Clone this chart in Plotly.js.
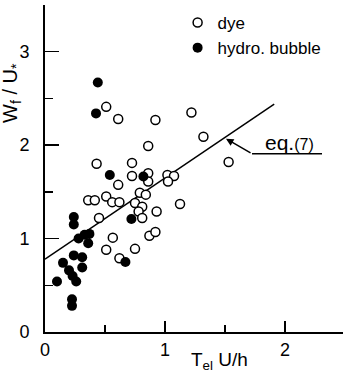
<!DOCTYPE html>
<html>
<head>
<meta charset="utf-8">
<script src="https://cdn.plot.ly/plotly-3.0.1.min.js"></script>
<style>html,body{margin:0;padding:0;background:#fff;}#chart{width:343px;height:374px;}</style>
</head>
<body>
<div id="chart"></div>
<script>
// dye (open circles)
const dyeX = [0.51,0.61,0.92,1.22,1.32,0.86,0.43,0.725,0.725,0.86,0.86,0.61,1.02,1.075,1.025,0.79,0.84,0.36,0.415,0.51,0.56,0.62,0.75,0.81,0.78,0.93,0.81,1.125,0.45,0.565,0.51,0.62,0.75,0.87,0.92,1.53];
const dyeY = [2.41,2.28,2.27,2.35,2.09,1.99,1.80,1.81,1.67,1.70,1.61,1.575,1.68,1.67,1.61,1.49,1.47,1.41,1.41,1.45,1.39,1.39,1.38,1.34,1.29,1.29,1.22,1.37,1.22,1.01,0.88,0.79,0.89,1.03,1.07,1.82];
// hydro. bubble (filled circles)
const bubX = [0.44,0.425,0.54,0.82,0.72,0.24,0.24,0.28,0.33,0.37,0.36,0.24,0.31,0.15,0.20,0.31,0.23,0.26,0.10,0.225,0.225,0.67];
const bubY = [2.67,2.34,1.68,1.665,1.21,1.23,1.15,1.00,1.04,1.05,0.95,0.82,0.80,0.74,0.66,0.69,0.60,0.54,0.54,0.35,0.28,0.75];
// eq.(7) line
const eqX = [0, 1.91];
const eqY = [0.78, 2.44];
const xTickVals = [0, 1, 2];
const xTickText = ['0', '1', '2'];
const yTickVals = [0, 1, 2, 3];
const yTickText = ['0', '1', '2', '3'];

const FONT = 'Liberation Sans, Arial, sans-serif';

const traces = [
  {x: eqX, y: eqY, mode: 'lines', line: {color: '#000', width: 1.5}, showlegend: false, hoverinfo: 'skip'},
  {x: dyeX, y: dyeY, mode: 'markers', name: 'dye',
   marker: {symbol: 'circle', size: 9, color: '#fff', line: {color: '#000', width: 1.5}}},
  {x: bubX, y: bubY, mode: 'markers', name: 'hydro. bubble',
   marker: {symbol: 'circle', size: 10, color: '#000', line: {color: '#000', width: 0}}}
];

const layout = {
  width: 343, height: 374,
  margin: {l: 45, r: 0, t: 5, b: 42},
  paper_bgcolor: '#fff', plot_bgcolor: '#fff',
  font: {family: FONT, color: '#000', size: 17},
  showlegend: true,
  legend: {x: 0.445, y: 1.0, xanchor: 'left', yanchor: 'top', bgcolor: 'rgba(0,0,0,0)',
           font: {family: FONT, size: 17, color: '#000'}, tracegroupgap: 0, itemwidth: 30},
  xaxis: {range: [0, 2.483], showgrid: false, zeroline: false, showline: true, linecolor: '#000', linewidth: 2,
          ticks: 'inside', ticklen: 11, tickwidth: 1.5, tickcolor: '#000',
          tickmode: 'array', tickvals: xTickVals, ticktext: xTickText,
          tickfont: {family: FONT, size: 18, color: '#000'},
          minor: {tickmode: 'array', tickvals: [0.5, 1.5], ticks: 'inside', ticklen: 7, tickwidth: 1.5, tickcolor: '#000', showgrid: false}},
  yaxis: {range: [0, 3.5], showgrid: false, zeroline: false, showline: true, linecolor: '#000', linewidth: 2,
          ticks: 'inside', ticklen: 14, tickwidth: 1.5, tickcolor: '#000',
          tickmode: 'array', tickvals: yTickVals, ticktext: yTickText, ticklabelstandoff: 10,
          tickfont: {family: FONT, size: 18, color: '#000'},
          minor: {tickmode: 'array', tickvals: [0.5, 1.5, 2.5, 3.5], ticks: 'inside', ticklen: 8, tickwidth: 1.5, tickcolor: '#000', showgrid: false}},
  shapes: [
    {type: 'line', xref: 'x', yref: 'y', x0: 1.725, y0: 1.908, x1: 2.308, y1: 1.908, line: {color: '#000', width: 1.5}}
  ],
  annotations: [
    {xref: 'paper', yref: 'paper', x: -0.111, y: 0.731, xanchor: 'center', yanchor: 'middle', textangle: -90,
     text: 'W<sub>f</sub> / U<sub>*</sub>', showarrow: false, font: {family: FONT, size: 20, color: '#000'}},
    {xref: 'paper', yref: 'paper', x: 0.587, y: -0.088, xanchor: 'center', yanchor: 'middle',
     text: 'T<sub>el</sub> U/h', showarrow: false, font: {family: FONT, size: 19, color: '#000'}},
    {xref: 'x', yref: 'y', x: 1.508, y: 2.069, ax: 1.725, ay: 1.908, axref: 'x', ayref: 'y', text: '',
     showarrow: true, arrowhead: 2, arrowsize: 1, arrowwidth: 1.5, arrowcolor: '#000'},
    {xref: 'x', yref: 'y', x: 2.04, y: 2.03, xanchor: 'center', yanchor: 'middle',
     text: 'eq.<span style="font-size:16px">(7)</span>', showarrow: false, font: {family: FONT, size: 21, color: '#000'}}
  ]
};

Plotly.newPlot('chart', traces, layout, {displayModeBar: false, staticPlot: true});
</script>
</body>
</html>
